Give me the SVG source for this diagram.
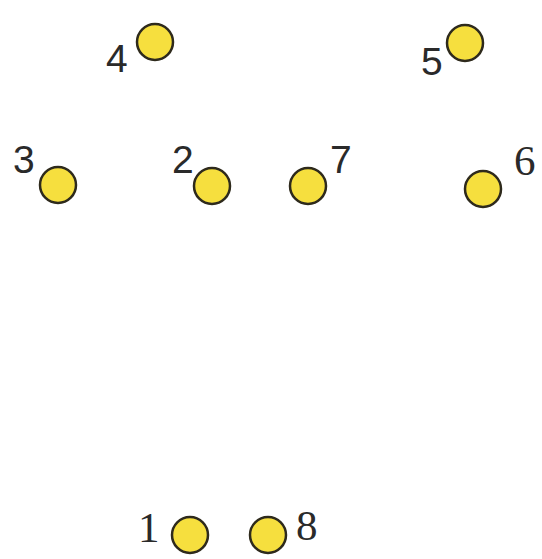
<svg xmlns="http://www.w3.org/2000/svg" width="542" height="559" viewBox="0 0 542 559">
<style>
.n{fill:#f6df3e;stroke:#2e2a1c;stroke-width:2.5}
.s{font-family:"Liberation Sans",Arial,sans-serif;font-size:39px;fill:#2a2a2a}
.r{font-family:"Liberation Serif","Times New Roman",serif;font-size:43px;fill:#2a2a2a}
</style>
<rect width="542" height="559" fill="#ffffff"/>
<g id="connectors"></g>
<g id="node4"><circle class="n" cx="155" cy="42" r="18"/><text class="s" x="106" y="72">4</text></g>
<g id="node5"><circle class="n" cx="465" cy="43" r="18"/><text class="s" x="421" y="75">5</text></g>
<g id="node3"><circle class="n" cx="58" cy="185" r="18"/><text class="s" x="13" y="173">3</text></g>
<g id="node2"><circle class="n" cx="212" cy="186" r="18"/><text class="s" x="172" y="173">2</text></g>
<g id="node7"><circle class="n" cx="308" cy="186" r="18"/><text class="s" x="330" y="173">7</text></g>
<g id="node6"><circle class="n" cx="483" cy="189" r="18"/><text class="r" x="514" y="175">6</text></g>
<g id="node1"><circle class="n" cx="190" cy="535" r="18"/><text class="r" x="138" y="542">1</text></g>
<g id="node8"><circle class="n" cx="268" cy="535" r="18"/><text class="r" x="296" y="540">8</text></g>
</svg>
